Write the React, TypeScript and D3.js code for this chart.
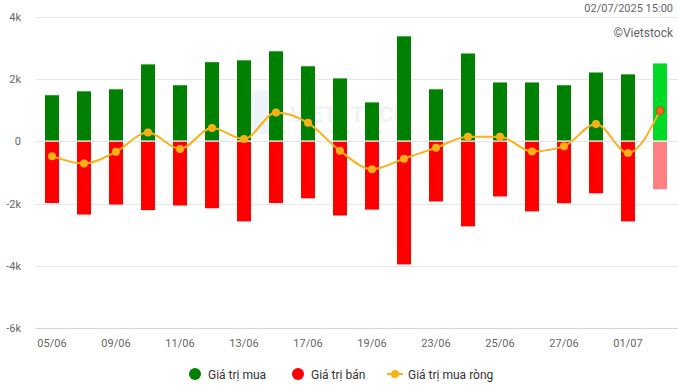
import React, { useRef, useEffect } from "react";
import * as d3 from "d3";

// ngày giao dịch
const dates = [
  "05/06", "06/06", "09/06", "10/06", "11/06", "12/06", "13/06", "16/06", "17/06", "18/06",
  "19/06", "20/06", "23/06", "24/06", "25/06", "26/06", "27/06", "30/06", "01/07", "02/07",
];
// giá trị mua (tỷ đồng)
const buyValues = [
  1490, 1615, 1680, 2480, 1810, 2550, 2610, 2900, 2420, 2030,
  1260, 3380, 1680, 2830, 1900, 1900, 1810, 2220, 2160, 2510,
];
// giá trị bán
const sellValues = [
  -2000, -2370, -2050, -2230, -2080, -2170, -2590, -2000, -1850, -2400,
  -2210, -3970, -1950, -2750, -1790, -2270, -2010, -1690, -2590, -1560,
];
// giá trị mua ròng
const netValues = [
  -480, -720, -340, 280, -250, 420, 70, 920, 590, -310,
  -900, -560, -210, 140, 140, -330, -160, 550, -380, 980,
];
const yTicks = [-6000, -4000, -2000, 0, 2000, 4000];
const legendItems = ["Giá trị mua", "Giá trị bán", "Giá trị mua ròng"];

const W = 678;
const H = 386;
const FONT = "Roboto, 'Liberation Sans', Arial, sans-serif";

const App = () => {
  const container = useRef<SVGSVGElement>(null);

  useEffect(() => {
    const svg = d3.select(container.current);
    svg.selectAll("*").remove();

    const x = d3.scaleBand().domain(dates).range([36, 676]).paddingInner(0.53).paddingOuter(0.265);
    const y = d3.scaleLinear().domain([-6000, 4000]).range([328.2, 16.5]);
    const last = dates.length - 1;

    // grid lines
    svg
      .append("g")
      .selectAll("line")
      .data(yTicks)
      .enter()
      .append("line")
      .attr("x1", 36)
      .attr("x2", W)
      .attr("y1", d => Math.round(y(d)) + 0.5)
      .attr("y2", d => Math.round(y(d)) + 0.5)
      .attr("stroke", d => (d === -6000 ? "#ccd6eb" : "#e6e6e6"))
      .attr("stroke-width", 1);

    // watermark
    const wm = svg.append("g").attr("opacity", 0.08);
    wm.append("circle").attr("cx", 262).attr("cy", 112).attr("r", 22).attr("fill", "#2f6db5");
    wm.append("text")
      .attr("x", 290)
      .attr("y", 122)
      .attr("font-family", FONT)
      .attr("font-size", 22)
      .attr("font-weight", "bold")
      .attr("fill", "#2f6db5")
      .text("VIETSTOCK");

    // y labels
    svg
      .append("g")
      .selectAll("text")
      .data(yTicks)
      .enter()
      .append("text")
      .attr("x", 21)
      .attr("y", d => y(d) + 4)
      .attr("text-anchor", "end")
      .attr("font-family", FONT)
      .attr("font-size", 11)
      .attr("fill", "#666666")
      .text(d => (d === 0 ? "0" : `${d / 1000}k`));

    // x labels
    svg
      .append("g")
      .selectAll("text")
      .data(dates.filter((d, i) => i % 2 === 0))
      .enter()
      .append("text")
      .attr("x", d => (x(d) as number) + x.bandwidth() / 2)
      .attr("y", 347)
      .attr("text-anchor", "middle")
      .attr("font-family", FONT)
      .attr("font-size", 11)
      .attr("fill", "#666666")
      .text(d => d);

    // buy bars
    svg
      .append("g")
      .selectAll("rect")
      .data(buyValues)
      .enter()
      .append("rect")
      .attr("x", (d, i) => x(dates[i]) as number)
      .attr("y", d => y(d))
      .attr("width", x.bandwidth())
      .attr("height", d => y(0) - y(d))
      .attr("fill", (d, i) => (i === last ? "#00d926" : "#008000"))
      .attr("stroke", "#ffffff")
      .attr("stroke-width", 1);

    // sell bars
    svg
      .append("g")
      .selectAll("rect")
      .data(sellValues)
      .enter()
      .append("rect")
      .attr("x", (d, i) => x(dates[i]) as number)
      .attr("y", y(0))
      .attr("width", x.bandwidth())
      .attr("height", d => y(d) - y(0))
      .attr("fill", (d, i) => (i === last ? "#ff8080" : "#ff0000"))
      .attr("stroke", "#ffffff")
      .attr("stroke-width", 1);

    // net line
    const line = d3
      .line<number>()
      .x((d, i) => (x(dates[i]) as number) + x.bandwidth() / 2)
      .y(d => y(d))
      .curve(d3.curveMonotoneX);

    svg
      .append("path")
      .datum(netValues)
      .attr("d", line)
      .attr("fill", "none")
      .attr("stroke", "#fbb116")
      .attr("stroke-width", 2);

    svg
      .append("g")
      .selectAll("circle")
      .data(netValues)
      .enter()
      .append("circle")
      .attr("cx", (d, i) => (x(dates[i]) as number) + x.bandwidth() / 2)
      .attr("cy", d => y(d))
      .attr("r", 4)
      .attr("fill", (d, i) => (i === last ? "#f26b1d" : "#fbb116"))
      .attr("stroke", (d, i) => (i === last ? "#b5531a" : "none"))
      .attr("stroke-width", 1);

    // header texts
    svg
      .append("text")
      .attr("x", 673)
      .attr("y", 12)
      .attr("text-anchor", "end")
      .attr("font-family", FONT)
      .attr("font-size", 11)
      .attr("fill", "#666666")
      .text("02/07/2025 15:00");

    svg
      .append("text")
      .attr("x", 673)
      .attr("y", 37)
      .attr("text-anchor", "end")
      .attr("font-family", FONT)
      .attr("font-size", 12)
      .attr("fill", "#666666")
      .text("©Vietstock");

    // legend
    const legend = svg.append("g").attr("transform", "translate(0, 374)");
    const lx = [195, 298, 395];
    legend.append("circle").attr("cx", lx[0]).attr("cy", 0).attr("r", 6).attr("fill", "#008000");
    legend.append("circle").attr("cx", lx[1]).attr("cy", 0).attr("r", 6).attr("fill", "#ff0000");
    legend
      .append("line")
      .attr("x1", lx[2] - 8)
      .attr("x2", lx[2] + 8)
      .attr("y1", 0)
      .attr("y2", 0)
      .attr("stroke", "#fbb116")
      .attr("stroke-width", 2);
    legend.append("circle").attr("cx", lx[2]).attr("cy", 0).attr("r", 4).attr("fill", "#fbb116");

    legend
      .selectAll("text")
      .data(legendItems)
      .enter()
      .append("text")
      .attr("x", (d, i) => lx[i] + 13)
      .attr("y", 4.5)
      .attr("font-family", FONT)
      .attr("font-size", 12)
      .attr("fill", "#333333")
      .text(d => d);
  }, []);

  return (
    <div style={{ position: "absolute", top: 0, left: 0, width: W, height: H, background: "#ffffff" }}>
      <svg ref={container} width={W} height={H} style={{ display: "block" }} />
    </div>
  );
};

export default App;
